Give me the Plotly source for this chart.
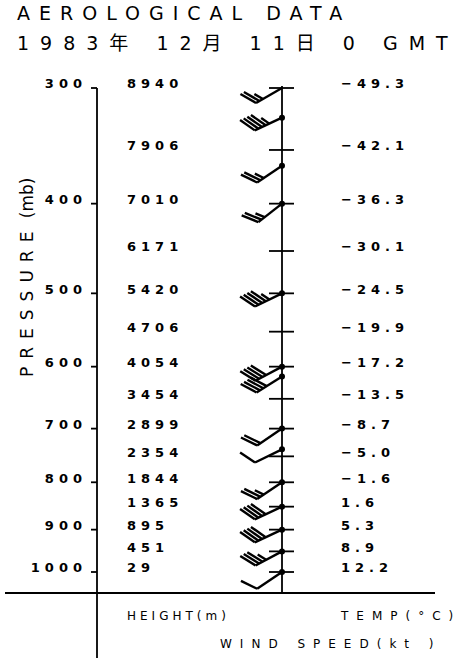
import numpy as np
import plotly.graph_objects as go

# ---------------- data ----------------
LEVELS = [300, 350, 400, 450, 500, 550, 600, 650, 700, 750, 800, 850, 900, 950, 1000]
HEIGHTS = ["8940", "7906", "7010", "6171", "5420", "4706", "4054", "3454",
           "2899", "2354", "1844", "1365", "895", "451", "29"]
TEMPS = ["−49.3", "−42.1", "−36.3", "−30.1", "−24.5", "−19.9", "−17.2", "−13.5",
         "−8.7", "−5.0", "−1.6", "1.6", "5.3", "8.9", "12.2"]
P_TICKS = [300, 400, 500, 600, 700, 800, 900, 1000]
P_LABELS = ["300", "400", "500", "600", "700", "800", "900", "1000"]
WIND_P = [300, 323, 364, 400, 500, 600, 615, 700, 737, 800, 850, 900, 950, 1000]
WIND_DIR = [240, 245, 236, 232, 244, 242, 238, 236, 244, 236, 245, 245, 242, 236]
WIND_KT = [25, 45, 25, 25, 45, 40, 40, 20, 10, 25, 40, 40, 35, 10]
WIND_DOT = [False, True, True, True, True, True, True, True, True, True, True, True, True, True]

TITLE1 = "AEROLOGICAL DATA"
TITLE2 = "1983年 12月 11日 0 GMT"

# ---------------- layout geometry ----------------
W, H = 462, 658
P0, Y0, K = 300.0, 88.0, 402.0      # pressure at pixel row Y0, pixels per ln(p)


def p_at(ypx):
    return P0 * np.exp((ypx - Y0) / K)


def shift(p, dy):
    return p * np.exp(dy / K)


AXIS_X = 97
STAFF_X = 282
BASE_Y = 593
FONT = "DejaVu Sans, Noto Sans CJK JP, sans-serif"
INK = "black"


def spaced(s, ls, bold=False):
    t = f'<span style="letter-spacing:{ls}px">{s}</span>'
    return f"<b>{t}</b>" if bold else t


fig = go.Figure()

# ---- frame lines ----
lx, ly = [], []


def seg(x0, p0, x1, p1):
    lx.extend([x0, x1, None])
    ly.extend([p0, p1, None])


seg(AXIS_X, P0, AXIS_X, p_at(H + 5))
for p in P_TICKS:
    seg(AXIS_X - 6, p, AXIS_X, p)
seg(5, p_at(BASE_Y), 435, p_at(BASE_Y))
seg(STAFF_X, p_at(Y0 - 2), STAFF_X, p_at(BASE_Y))
for p in LEVELS:
    seg(STAFF_X - 13, p, STAFF_X + 12, p)

fig.add_trace(go.Scatter(x=lx, y=ly, mode="lines",
                         line=dict(color=INK, width=1.8), hoverinfo="skip"))

# ---- wind barbs ----
SHAFT = 30.0
FEATHER = 18.0
GAP = 4.0
bx, by = [], []
for p, d, v in zip(WIND_P, WIND_DIR, WIND_KT):
    r = np.radians(d)
    sx, sy = np.sin(r), -np.cos(r)             # screen direction (y down)
    a = np.radians(60)
    fx = np.cos(a) * sx - np.sin(a) * sy
    fy = np.sin(a) * sx + np.cos(a) * sy
    ex, ey = STAFF_X + SHAFT * sx, SHAFT * sy
    bx.extend([STAFF_X, ex, None])
    by.extend([p, shift(p, ey), None])
    n_full, n_half = int(v // 10), int((v % 10) >= 5)
    pos = SHAFT
    for i in range(n_full + n_half):
        ln = FEATHER if i < n_full else FEATHER * 0.55
        px0, py0 = STAFF_X + pos * sx, pos * sy
        bx.extend([px0, px0 + ln * fx, None])
        by.extend([shift(p, py0), shift(p, py0 + ln * fy), None])
        pos -= GAP

fig.add_trace(go.Scatter(x=bx, y=by, mode="lines",
                         line=dict(color=INK, width=2.4), hoverinfo="skip"))

dot_p = [p for p, d in zip(WIND_P, WIND_DOT) if d]
fig.add_trace(go.Scatter(x=[STAFF_X] * len(dot_p), y=dot_p, mode="markers",
                         marker=dict(color=INK, size=6), hoverinfo="skip"))

# ---- column texts ----
TXT_DY = -3
DIG_LS = 5
DIG_SIZE = 13
fig.add_trace(go.Scatter(
    x=[AXIS_X - 15 + DIG_LS] * len(P_TICKS), y=[shift(p, TXT_DY) for p in P_TICKS],
    mode="text", text=[spaced(s, DIG_LS, True) for s in P_LABELS], textposition="middle left",
    textfont=dict(family=FONT, size=DIG_SIZE, color=INK), hoverinfo="skip"))
fig.add_trace(go.Scatter(
    x=[127] * len(LEVELS), y=[shift(p, TXT_DY) for p in LEVELS],
    mode="text", text=[spaced(s, DIG_LS, True) for s in HEIGHTS], textposition="middle right",
    textfont=dict(family=FONT, size=DIG_SIZE, color=INK), hoverinfo="skip"))
fig.add_trace(go.Scatter(
    x=[341] * len(LEVELS), y=[shift(p, TXT_DY) for p in LEVELS],
    mode="text", text=[spaced(s, DIG_LS, True) for s in TEMPS], textposition="middle right",
    textfont=dict(family=FONT, size=DIG_SIZE, color=INK), hoverinfo="skip"))

# ---- titles and captions ----
fig.add_trace(go.Scatter(
    x=[17, 17, 127, 341, 220], y=[p_at(15), p_at(45), p_at(617), p_at(617), p_at(645)],
    mode="text",
    text=[spaced(TITLE1, 9), spaced(TITLE2, 11), spaced("HEIGHT(m)", 4),
          spaced("TEMP(°C)", 8), spaced("WIND SPEED(kt )", 8)],
    textposition="middle right",
    textfont=dict(family=FONT, size=[19, 19, 12, 12, 12], color=INK), hoverinfo="skip"))

fig.add_annotation(x=15 / W, y=1 - 278 / H, xref="paper", yref="paper",
                   text=spaced("PRESSURE", 8) + " (mb)", textangle=-90, showarrow=False,
                   font=dict(family=FONT, size=17, color=INK))

fig.update_layout(
    width=W, height=H, margin=dict(l=0, r=0, t=0, b=0),
    paper_bgcolor="white", plot_bgcolor="white", showlegend=False,
    xaxis=dict(range=[0, W], visible=False, fixedrange=True),
    yaxis=dict(type="log", range=[np.log10(p_at(H)), np.log10(p_at(0))],
               visible=False, fixedrange=True),
)

fig.write_html("out.html")
